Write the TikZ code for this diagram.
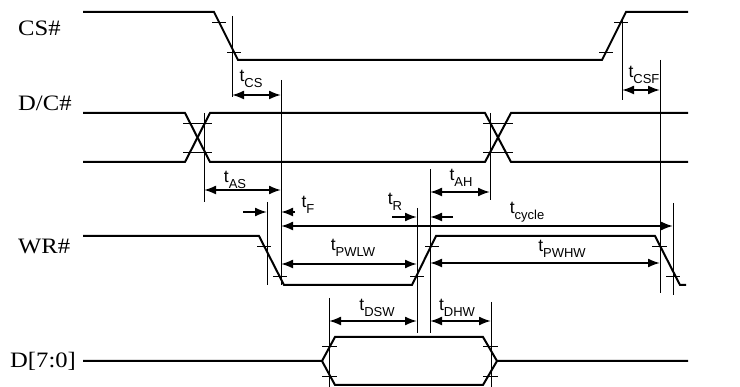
\documentclass[tikz,border=0pt]{standalone}
\usepackage{fontspec}
\setmainfont{Liberation Serif}
\newfontfamily\arialf{Liberation Sans}
\usetikzlibrary{arrows.meta}
\newcommand{\tsub}[1]{{\arialf\fontsize{17.5}{17.5}\selectfont t\raisebox{-5.5pt}{\fontsize{13}{13}\selectfont #1}}}
\begin{document}
\begin{tikzpicture}[x=1pt,y=-1pt,
  sig/.style={line width=2pt, line join=miter},
  guide/.style={line width=0.8pt},
  tickln/.style={line width=0.8pt},
  dimarr/.style={line width=1.9pt, {Latex[length=12pt,width=9pt]}-{Latex[length=12pt,width=9pt]}},
  halfarr/.style={line width=1.9pt, -{Latex[length=12pt,width=9pt]}},
  siglabel/.style={anchor=west, font=\fontsize{22}{22}\selectfont, inner sep=0},
  tlabel/.style={inner sep=0}
]
\useasboundingbox (0,0) rectangle (740,387);

% signal labels
\node[siglabel] (lcs) at (18,28) {\scalebox{1.12}[1]{CS\#}};
\node[siglabel] (ldc) at (18,103) {\scalebox{1.12}[1]{D/C\#}};
\node[siglabel] (lwr) at (18,246) {\scalebox{1.12}[1]{WR\#}};
\node[siglabel] (ld) at (10,361) {\scalebox{1.12}[1]{D[7:0]}};

% CS#
\draw[sig] (83,12) -- (214,12) -- (238,60) -- (602,60) -- (626,12) -- (688,12);
\draw[tickln] (212,22) -- (226,22) (227,52) -- (241,52) (599,52) -- (613,52) (614,22) -- (628,22);

% D/C#
\draw[sig] (83,113) -- (185,113) -- (210,162) -- (485,162) -- (511,113) -- (688,113);
\draw[sig] (83,162) -- (185,162) -- (210,113) -- (485,113) -- (511,162) -- (688,162);
\draw[tickln] (183,123) -- (212,123) (183,152) -- (212,152) (483,123) -- (513,123) (483,152) -- (513,152);

% WR#
\draw[sig] (83,236) -- (259,236) -- (284,285) -- (412,285) -- (436,236) -- (655,236) -- (680,285) -- (686,285);
\draw[tickln] (257,246) -- (271,246) (273,276) -- (287,276) (410,276) -- (424,276) (425,246) -- (439,246) (652,246) -- (667,246) (666,276) -- (680,276);

% D[7:0]
\draw[sig] (83,361) -- (322,361) -- (335,337) -- (483,337) -- (497,361) -- (688,361);
\draw[sig] (322,361) -- (335,385) -- (483,385) -- (497,361);
\draw[tickln] (322,346) -- (337,346) (322,376) -- (337,376) (483,346) -- (498,346) (483,376) -- (498,376);

% guide lines
\draw[guide] (232,16) -- (232,97);
\draw[guide] (281,80) -- (281,285);
\draw[guide] (204,113) -- (204,202);
\draw[guide] (622,20) -- (622,100);
\draw[guide] (660,60) -- (660,293);
\draw[guide] (490,113) -- (490,200);
\draw[guide] (267,202) -- (267,285);
\draw[guide] (430,169) -- (430,333);
\draw[guide] (417,208) -- (417,333);
\draw[guide] (673,203) -- (673,295);
\draw[guide] (329,298) -- (329,387);
\draw[guide] (491,302) -- (491,387);

% dimension arrows
\draw[dimarr] (232,95) -- (281,95);
\draw[dimarr] (622,90) -- (660,90);
\draw[dimarr] (204,190) -- (281,190);
\draw[dimarr] (430,192) -- (490,192);
\draw[halfarr] (243,212) -- (267,212);
\draw[halfarr] (295,212) -- (281,212);
\draw[halfarr] (392,217) -- (417,217);
\draw[halfarr] (453,217) -- (430,217);
\draw[dimarr] (281,226) -- (673,226);
\draw[dimarr] (281,264) -- (417,264);
\draw[dimarr] (430,263) -- (660,263);
\draw[dimarr] (329,321) -- (417,321);
\draw[dimarr] (430,321) -- (491,321);

% timing labels
\node[tlabel] (tcs) at (251,79) {\tsub{CS}};
\node[tlabel] (tcsf) at (644,75) {\tsub{CSF}};
\node[tlabel] (tas) at (235,180) {\tsub{AS}};
\node[tlabel] (tah) at (461,178) {\tsub{AH}};
\node[tlabel] (tf) at (308,205) {\tsub{F}};
\node[tlabel] (tr) at (395,202) {\tsub{R}};
\node[tlabel] (tcyc) at (527,212) {\tsub{cycle}};
\node[tlabel] (tpwlw) at (353,248) {\tsub{PWLW}};
\node[tlabel] (tpwhw) at (562,249) {\tsub{PWHW}};
\node[tlabel] (tdsw) at (377,308) {\tsub{DSW}};
\node[tlabel] (tdhw) at (457,308) {\tsub{DHW}};
\end{tikzpicture}
\end{document}
